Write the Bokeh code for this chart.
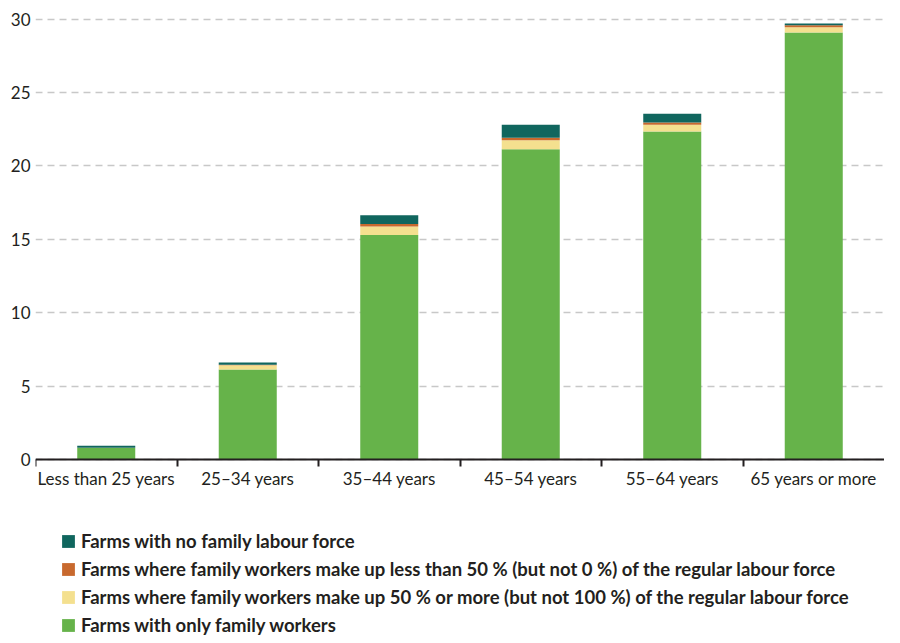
from bokeh.plotting import figure
from bokeh.models import (ColumnDataSource, Range1d, FixedTicker, Legend, LegendItem)
from bokeh.embed import file_html
from bokeh.resources import INLINE

categories = ["Less than 25 years", "25\u201334 years", "35\u201344 years",
              "45\u201354 years", "55\u201364 years", "65 years or more"]
only_family = [0.78, 6.13, 15.30, 21.14, 22.34, 29.09]
family_50_plus = [0.02, 0.30, 0.58, 0.61, 0.46, 0.36]
family_under_50 = [0.01, 0.03, 0.16, 0.18, 0.16, 0.14]
no_family = [0.12, 0.15, 0.60, 0.87, 0.59, 0.11]
y_ticks = [0, 5, 10, 15, 20, 25, 30]

series_names = ["Farms with only family workers",
                "Farms where family workers make up 50 % or more (but not 100 %) of the regular labour force",
                "Farms where family workers make up less than 50 % (but not 0 %) of the regular labour force",
                "Farms with no family labour force"]
colors = ["#66b34a", "#f4e08f", "#c8692e", "#10665e"]

xs = [i + 0.5 for i in range(len(categories))]
src = ColumnDataSource(dict(x=xs, s0=only_family, s1=family_50_plus,
                            s2=family_under_50, s3=no_family))

TEXT = "#231f20"
FONT = "Lato"

# frame spans down to the figure bottom; the x axis sits at y = 0 and the
# legend is placed in the area below it
p = figure(width=884, height=635, output_backend="svg", toolbar_location=None,
           x_range=Range1d(0, len(categories)), y_range=Range1d(-11.99, 30.456),
           min_border_left=35, min_border_right=0, min_border_top=12,
           min_border_bottom=0)
p.outline_line_color = None

renderers = p.vbar_stack(["s0", "s1", "s2", "s3"], x="x", width=0.41, source=src,
                         color=colors, line_color=None)

# x axis, drawn at y = 0
xa = p.xaxis[0]
xa.fixed_location = 0
xa.ticker = FixedTicker(ticks=xs, minor_ticks=list(range(len(categories))))
xa.major_label_overrides = {x: c for x, c in zip(xs, categories)}
xa.major_tick_in = 0
xa.major_tick_out = 0
xa.minor_tick_in = 0
xa.minor_tick_out = 7
xa.minor_tick_line_color = TEXT
xa.minor_tick_line_width = 2
xa.axis_line_color = TEXT
xa.axis_line_width = 2
xa.major_label_standoff = 1
xa.major_label_text_font = FONT
xa.major_label_text_font_size = "17px"
xa.major_label_text_color = TEXT

# y axis
ya = p.yaxis[0]
ya.ticker = FixedTicker(ticks=y_ticks)
ya.axis_line_color = None
ya.major_tick_line_color = None
ya.minor_tick_line_color = None
ya.major_tick_in = 0
ya.major_tick_out = 0
ya.major_label_standoff = 5
ya.major_label_text_font = FONT
ya.major_label_text_font_size = "17px"
ya.major_label_text_color = TEXT

p.xgrid.visible = False
p.ygrid.grid_line_color = "#c8c8c8"
p.ygrid.grid_line_dash = "7 5"
p.ygrid.grid_line_width = 1.3

items = [LegendItem(label=series_names[i], renderers=[renderers[i]]) for i in [3, 2, 1, 0]]
legend = Legend(items=items, location=(25, -1), orientation="vertical",
                margin=0, padding=0, spacing=6,
                glyph_width=16, glyph_height=16, label_height=20,
                label_standoff=5,
                label_text_font=FONT, label_text_font_style="bold",
                label_text_font_size="18.5px", label_text_color=TEXT,
                background_fill_alpha=0, border_line_color=None)
p.add_layout(legend, "center")

open("out.html", "w").write(file_html(p, INLINE))
